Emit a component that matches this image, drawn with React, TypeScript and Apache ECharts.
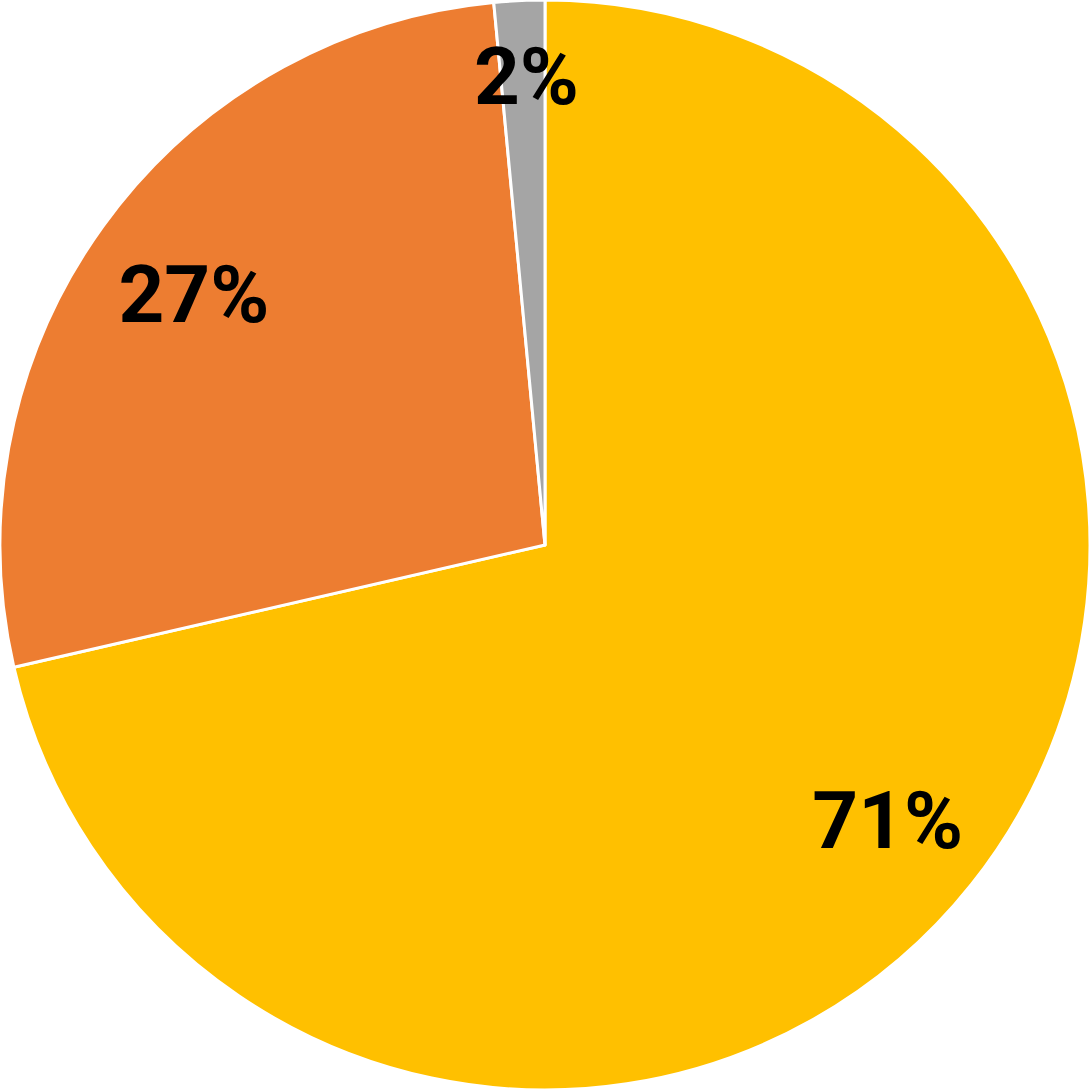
import React, { useEffect, useRef } from "react";
import * as echarts from "echarts";

const categories = ["A", "B", "C"];
const values = [71.4, 27.1, 1.5];
const labels = ["71%", "27%", "2%"];
const colors = ["#FFC000", "#ED7D31", "#A5A5A5"];

export default function App() {
  const ref = useRef<HTMLDivElement>(null);
  useEffect(() => {
    if (!ref.current) return;
    const chart = echarts.init(ref.current, undefined, { renderer: "svg" });
    const data = categories.map((c, i) => ({ name: c, value: values[i], itemStyle: { color: colors[i] } }));
    const labelData = categories.map((c, i) => ({
      name: c,
      value: values[i],
      label: i === 2 ? { offset: [2, -33] } : { offset: [2, 5] },
    }));
    chart.setOption({
      animation: false,
      backgroundColor: "#ffffff",
      series: [
        {
          type: "pie",
          center: [545, 545],
          radius: [0, 545],
          startAngle: 90,
          clockwise: true,
          silent: true,
          label: { show: false },
          labelLine: { show: false },
          itemStyle: { borderColor: "#ffffff", borderWidth: 3 },
          data,
        },
        {
          type: "pie",
          center: [545, 545],
          radius: [320, 545],
          startAngle: 90,
          clockwise: true,
          silent: true,
          itemStyle: { color: "rgba(0,0,0,0)" },
          labelLine: { show: false },
          label: {
            show: true,
            position: "inside",
            formatter: (p: any) => labels[p.dataIndex],
            color: "#000000",
            fontFamily: "Roboto",
            fontWeight: "bold",
            fontSize: 80,
          },
          data: labelData,
        },
      ],
    });
    return () => chart.dispose();
  }, []);
  return (
    <div
      ref={ref}
      style={{ position: "absolute", left: 0, top: 0, width: 1091, height: 1090 }}
    />
  );
}
